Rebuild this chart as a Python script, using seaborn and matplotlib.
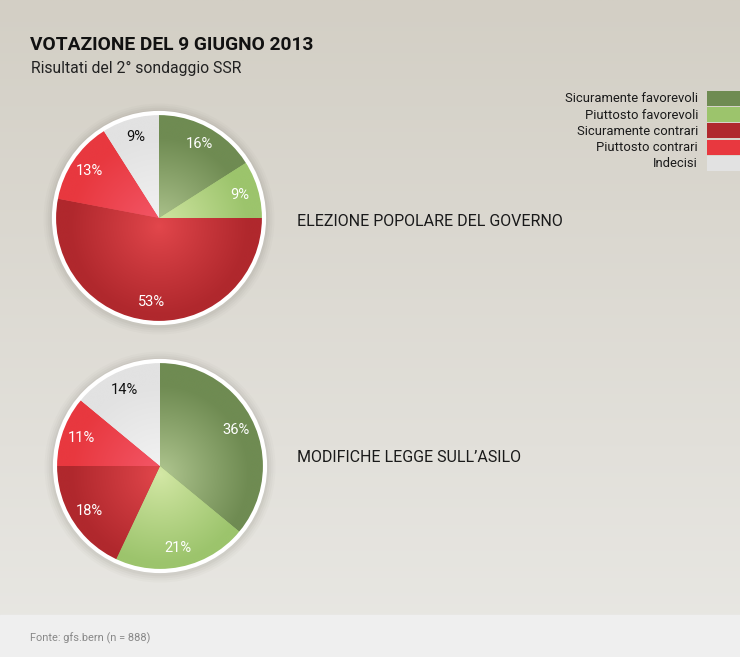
import numpy as np
import matplotlib
matplotlib.use("Agg")
import matplotlib.pyplot as plt
from matplotlib.patches import Rectangle, Circle
from matplotlib.colors import to_rgb
import seaborn as sns

# ─── Data ─────────────────────────────────────────────────────────────────────
categories = ["Sicuramente favorevoli", "Piuttosto favorevoli", "Sicuramente contrari",
              "Piuttosto contrari", "Indecisi"]
governo = [16, 9, 53, 13, 9]
asilo = [36, 21, 18, 11, 14]
question_labels = ["ELEZIONE POPOLARE DEL GOVERNO", "MODIFICHE LEGGE SULL\u2019ASILO"]

base_colors = ["#6f8b52", "#9cc46c", "#b0282d", "#e8383f", "#e2e2e2"]
light_colors = ["#b2c892", "#d4e8a6", "#e3474c", "#f4596a", "#f4f4f4"]
label_colors = ["white", "white", "white", "white", "#111111"]

sns.set_style("white")
plt.rcParams["font.family"] = ["Roboto", "DejaVu Sans"]

W, H = 740, 657
fig = plt.figure(figsize=(W / 100, H / 100), dpi=100)

# background gradient
bg = fig.add_axes([0, 0, 1, 1])
top = np.array(to_rgb("#d3cfc5"))
bot = np.array(to_rgb("#e9e8e4"))
t = np.linspace(0, 1, 300)[:, None, None]
grad = top * (1 - t) + bot * t
grad = np.repeat(grad, 2, axis=1)
bg.imshow(grad, extent=[0, W, H, 0], aspect="auto", zorder=0)
bg.add_patch(Rectangle((0, 615), W, H - 615, color="#efefef", zorder=1))
bg.set_xlim(0, W)
bg.set_ylim(H, 0)
bg.axis("off")


def draw_pie(values, cx, cy, label, label_y):
    R = 105  # px per unit radius
    half = 125
    ax = fig.add_axes([(cx - half) / W, (H - cy - half) / H, 2 * half / W, 2 * half / H])
    lim = half / R
    # soft shadow
    for k, a in zip([1.10, 1.08, 1.06, 1.04], [0.03, 0.04, 0.05, 0.06]):
        ax.add_patch(Circle((0.0, -0.01), k, color="#6b665c", alpha=a, lw=0, zorder=0))
    wedges, texts = ax.pie(values, startangle=90, counterclock=False, colors=base_colors,
                           radius=1, labels=[f"{v}%" for v in values], labeldistance=0.8,
                           wedgeprops=dict(linewidth=0),
                           textprops=dict(fontsize=10.5))
    n = 400
    xs = np.linspace(-1, 1, n)
    X, Y = np.meshgrid(xs, xs[::-1])
    r = np.sqrt(X ** 2 + (Y + 0.08) ** 2)
    tt = np.clip(r / 0.85, 0, 1)[:, :, None] ** 0.9
    for w, bc, lc in zip(wedges, base_colors, light_colors):
        img = np.array(to_rgb(lc)) * (1 - tt) + np.array(to_rgb(bc)) * tt
        im = ax.imshow(img, extent=[-1, 1, -1, 1], zorder=2)
        im.set_clip_path(w)
    for txt, c in zip(texts, label_colors):
        txt.set_color(c)
        txt.set_zorder(5)
        txt.set_ha("center")
        txt.set_va("center")
    ax.add_patch(Circle((0, 0), 1.0, fill=False, ec="white", lw=3.0, zorder=4))
    ax.set_xlim(-lim, lim)
    ax.set_ylim(-lim, lim)
    ax.set_aspect("equal")
    ax.axis("off")
    fig.text(297 / W, 1 - label_y / H, label, fontsize=11.5,
             color="#1a1a1a", va="center", ha="left")


draw_pie(governo, 159, 218, question_labels[0], 221)
draw_pie(asilo, 160, 466, question_labels[1], 457)

# titles
fig.text(30 / W, 1 - 45 / H, "VOTAZIONE DEL 9 GIUGNO 2013", fontsize=13.8, fontweight="bold",
         color="#111111", va="center", ha="left")
fig.text(31 / W, 1 - 68 / H, "Risultati del 2\u00b0 sondaggio SSR", fontsize=11.3,
         color="#222222", va="center", ha="left")
fig.text(30 / W, 1 - 638 / H, "Fonte: gfs.bern (n = 888)", fontsize=7.9,
         color="#888888", va="center", ha="left")

# legend
for i, (cat, col) in enumerate(zip(categories, base_colors)):
    y0 = 91 + 16.2 * i
    bg.add_patch(Rectangle((707, y0), 40, 15, color=col, lw=0, zorder=3))
    bg.text(698, y0 + 8, cat, fontsize=9.4, color="#1a1a1a", ha="right", va="center", zorder=3)

fig.savefig("out.png", dpi=100)
